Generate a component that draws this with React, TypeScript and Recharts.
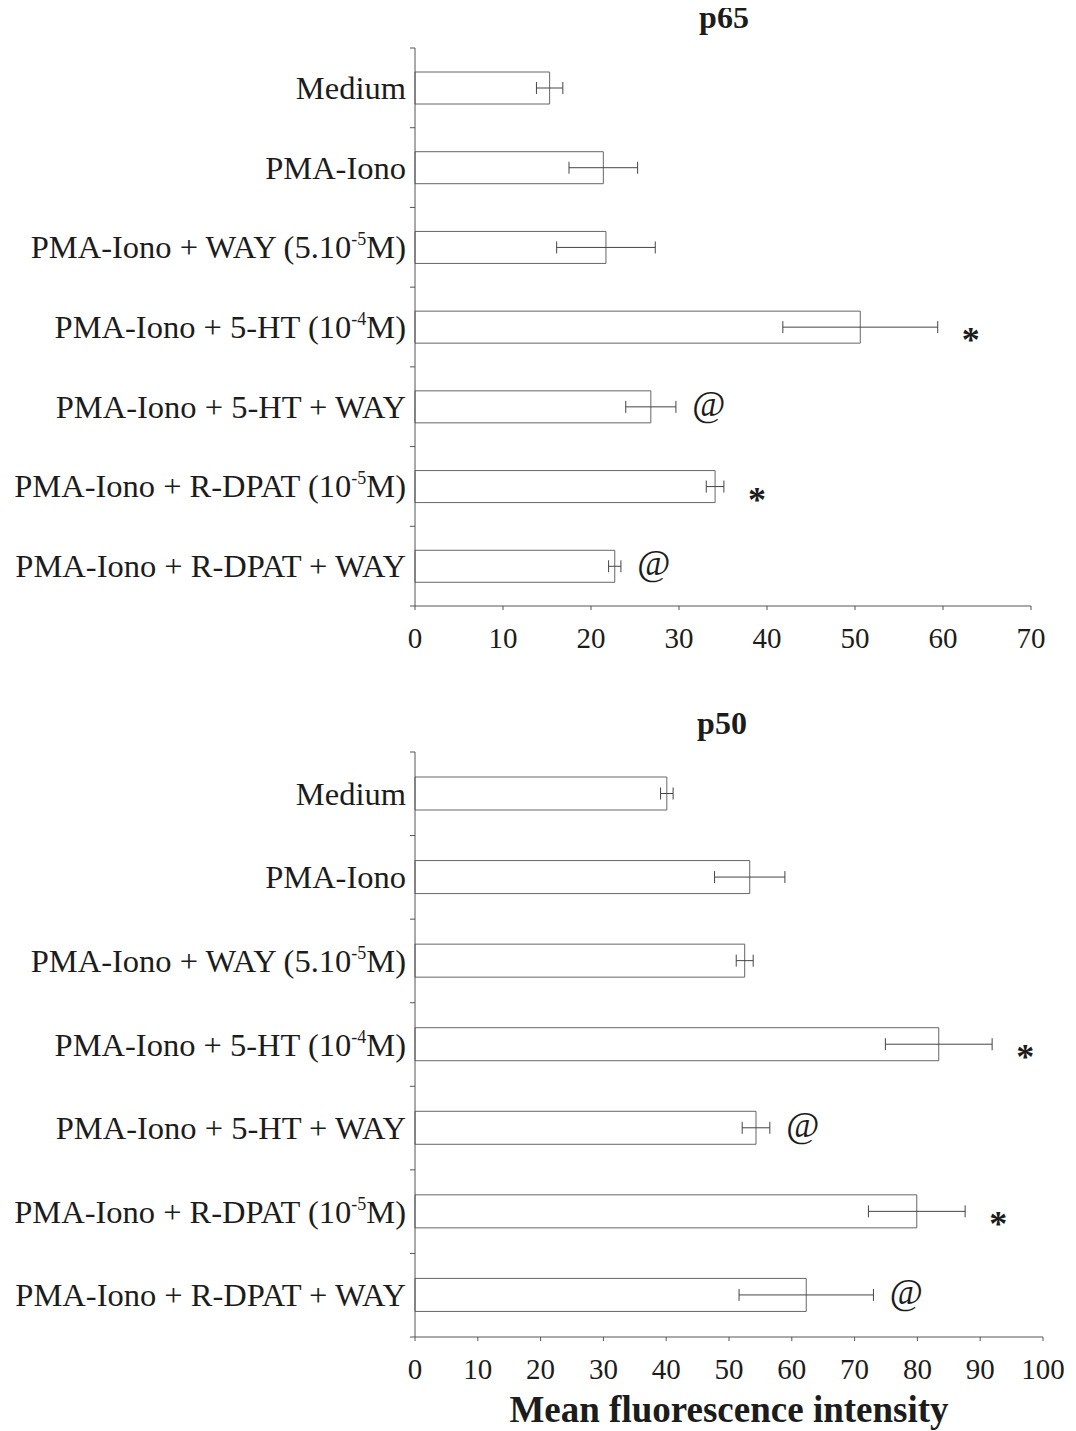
import React from 'react';
import { BarChart, Bar, XAxis, YAxis, ErrorBar, LabelList } from 'recharts';

// categories shared by both panels; ^...^ marks a superscript
const categories = [
  'Medium',
  'PMA-Iono',
  'PMA-Iono + WAY (5.10^-5^M)',
  'PMA-Iono + 5-HT (10^-4^M)',
  'PMA-Iono + 5-HT + WAY',
  'PMA-Iono + R-DPAT (10^-5^M)',
  'PMA-Iono + R-DPAT + WAY',
];

const p65Values = [15.3, 21.4, 21.7, 50.6, 26.8, 34.1, 22.7];
const p65Errors = [1.5, 3.9, 5.6, 8.8, 2.85, 1.0, 0.7];
const p50Values = [40.1, 53.3, 52.5, 83.4, 54.3, 79.9, 62.3];
const p50Errors = [1.0, 5.6, 1.35, 8.5, 2.2, 7.7, 10.7];
const marks = ['', '', '', '*', '@', '*', '@'];

const p65Ticks = [0, 10, 20, 30, 40, 50, 60, 70];
const p50Ticks = [0, 10, 20, 30, 40, 50, 60, 70, 80, 90, 100];

const FONT = '"Liberation Serif", "Times New Roman", serif';
const INK = '#1c1c1c';
const LINE = '#555';

const makeRows = (values: number[], errors: number[]) =>
  categories.map((name, i) => ({ name, value: values[i], err: errors[i], mark: marks[i] }));

const p65Data = makeRows(p65Values, p65Errors);
const p50Data = makeRows(p50Values, p50Errors);

const makeCategoryTick = (halfBand: number) => (props: any) => {
  const { x, y, payload, index } = props;
  const parts = String(payload.value).split('^');
  const ax = x + 9;
  return (
    <g>
      <line x1={ax - 5} x2={ax} y1={y - halfBand} y2={y - halfBand} stroke={LINE} />
      {index === categories.length - 1 && (
        <line x1={ax - 5} x2={ax} y1={y + halfBand} y2={y + halfBand} stroke={LINE} />
      )}
      <text x={x} y={y + 11} textAnchor="end" fontFamily={FONT} fontSize={32.5} fill={INK}>
        {parts.map((p, i) =>
          i % 2 === 1 ? (
            <tspan key={i} fontSize={18} dy={-13}>{p}</tspan>
          ) : (
            <tspan key={i} dy={i > 0 ? 13 : 0}>{p}</tspan>
          )
        )}
      </text>
    </g>
  );
};

const makeMark = (rows: { value: number; err: number; mark: string }[]) => (props: any) => {
  const { x, y, width, height, index } = props;
  const row = rows[index];
  if (!row || !row.mark) return null;
  const end = x + width + (row.err * width) / row.value;
  const cy = y + height / 2;
  const isStar = row.mark === '*';
  return (
    <text
      x={end + 33}
      y={isStar ? cy + 25 : cy + 9}
      textAnchor="middle"
      fontFamily={FONT}
      fontSize={36}
      fontWeight={isStar ? 'bold' : 'normal'}
      fill={INK}
    >
      {row.mark}
    </text>
  );
};

const AxisTitle = (props: any) => {
  const { x, y, width } = props.viewBox;
  return (
    <text x={x + width / 2} y={y + 85} textAnchor="middle" fontFamily={FONT} fontSize={37} fontWeight="bold" fill={INK}>
      Mean fluorescence intensity
    </text>
  );
};

const Title = ({ text, top, center }: { text: string; top: number; center: number }) => (
  <div
    style={{
      position: 'absolute',
      top,
      left: center - 100,
      width: 200,
      textAlign: 'center',
      fontFamily: FONT,
      fontWeight: 'bold',
      fontSize: 32,
      lineHeight: '32px',
      color: INK,
    }}
  >
    {text}
  </div>
);

const App: React.FC = () => {
  return (
    <div style={{ position: 'relative', width: 1060 }}>
      <Title text="p65" top={-7} center={716} />
      <Title text="p50" top={699} center={714} />

      {/* p65 panel */}
      <BarChart
        width={1060}
        height={660}
        data={p65Data}
        layout="vertical"
        margin={{ top: 40, right: 37, left: 0, bottom: 22 }}
        barSize={32}
        style={{ overflow: 'visible' }}
      >
        <XAxis
          type="number"
          domain={[0, 70]}
          ticks={p65Ticks}
          interval={0}
          height={40}
          stroke={LINE}
          tickSize={4}
          tickMargin={17}
          tick={{ fontFamily: FONT, fontSize: 29, fill: INK }}
        />
        <YAxis
          type="category"
          dataKey="name"
          width={407}
          stroke={LINE}
          tickLine={false}
          tickSize={0}
          tickMargin={9}
          interval={0}
          tick={makeCategoryTick(558 / 14)}
        />
        <Bar dataKey="value" fill="#fff" stroke="#666" strokeWidth={1} isAnimationActive={false}>
          <ErrorBar dataKey="err" direction="x" width={6} stroke="#444" strokeWidth={1} />
          <LabelList dataKey="mark" content={makeMark(p65Data)} />
        </Bar>
      </BarChart>

      {/* p50 panel */}
      <BarChart
        width={1060}
        height={763}
        data={p50Data}
        layout="vertical"
        margin={{ top: 84, right: 25, left: 0, bottom: 14 }}
        barSize={33}
        style={{ overflow: 'visible' }}
      >
        <XAxis
          type="number"
          domain={[0, 100]}
          ticks={p50Ticks}
          interval={0}
          height={80}
          stroke={LINE}
          tickSize={4}
          tickMargin={17}
          tick={{ fontFamily: FONT, fontSize: 29, fill: INK }}
          label={<AxisTitle />}
        />
        <YAxis
          type="category"
          dataKey="name"
          width={407}
          stroke={LINE}
          tickLine={false}
          tickSize={0}
          tickMargin={9}
          interval={0}
          tick={makeCategoryTick(585 / 14)}
        />
        <Bar dataKey="value" fill="#fff" stroke="#666" strokeWidth={1} isAnimationActive={false}>
          <ErrorBar dataKey="err" direction="x" width={6} stroke="#444" strokeWidth={1} />
          <LabelList dataKey="mark" content={makeMark(p50Data)} />
        </Bar>
      </BarChart>
    </div>
  );
};

export default App;
